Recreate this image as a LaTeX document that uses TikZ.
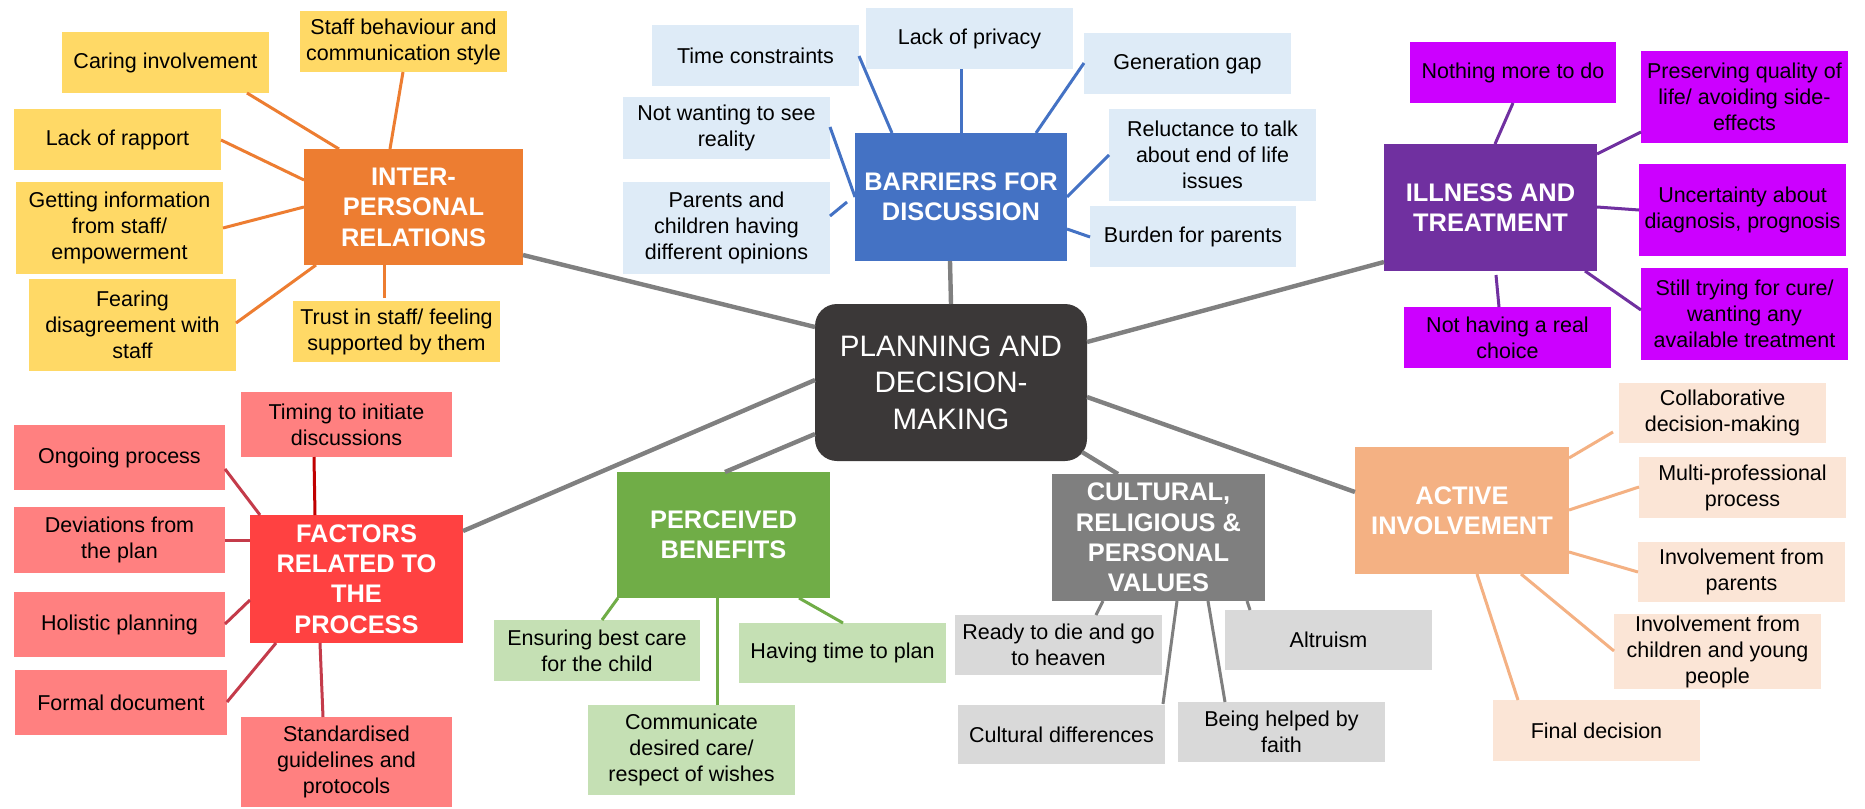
\documentclass[tikz,border=0pt]{standalone}
\usepackage{fontspec}
\setmainfont{Liberation Sans}
\definecolor{ipr}{HTML}{ED7D31}\definecolor{iprL}{HTML}{FFD966}
\definecolor{bar}{HTML}{4472C4}\definecolor{barL}{HTML}{DEEBF7}
\definecolor{ill}{HTML}{7030A0}\definecolor{illL}{HTML}{CC00FF}
\definecolor{fac}{HTML}{FF4141}\definecolor{facL}{HTML}{FF8080}\definecolor{facE}{HTML}{C43B4A}\definecolor{facE2}{HTML}{C00000}
\definecolor{per}{HTML}{70AD47}\definecolor{perL}{HTML}{C5E0B4}
\definecolor{cul}{HTML}{7F7F7F}\definecolor{culL}{HTML}{D9D9D9}
\definecolor{act}{HTML}{F4B183}\definecolor{actL}{HTML}{FBE5D6}
\definecolor{cen}{HTML}{3B3838}\definecolor{mainE}{HTML}{808080}
\tikzset{
  box/.style={rectangle, inner sep=0pt, outer sep=0pt, align=center},
  leaf/.style={box, font=\fontsize{10.75}{13}\selectfont, text=black},
  hub/.style={box, font=\fontsize{12.7}{15.2}\selectfont\bfseries, text=white},
  centre/.style={box, rounded corners=11pt, fill=cen, text=white, font=\fontsize{14.8}{18.3}\selectfont},
  mainedge/.style={draw=mainE, line width=2.2pt},
  leafedge/.style={line width=1.5pt}
}
\newcommand\bx[6]{\node[#1, minimum width={(#4-#2)*0.5pt}, minimum height={(#5-#3)*0.5pt}] (#6) at ({(#2+#4)/2},{(#3+#5)/2})}
\newcommand\cn[7]{\draw[#1] ([shift={(#3,#4)}]#2.center) -- ([shift={(#6,#7)}]#5.center);}
\begin{document}
\begin{tikzpicture}[x=0.5pt,y=-0.5pt]
\fill[white] (0,0) rectangle (1865,809);
\useasboundingbox (0,0) rectangle (1865,809);

% centre
\bx{centre}{815}{304}{1087}{461}{cen}{PLANNING AND\\DECISION-\\MAKING};

% inter-personal relations
\bx{hub,fill=ipr}{304}{149}{523}{265}{ipr}{INTER-\\PERSONAL\\RELATIONS};
\bx{leaf,fill=iprL}{62}{32}{269}{93}{caring}{Caring involvement};
\bx{leaf,fill=iprL}{300}{11}{507}{72}{staff}{Staff behaviour and\\communication style};
\bx{leaf,fill=iprL}{14}{109}{221}{170}{lack}{Lack of rapport};
\bx{leaf,fill=iprL}{16}{182}{223}{274}{getting}{Getting information\\from staff/\\empowerment};
\bx{leaf,fill=iprL}{29}{279}{236}{371}{fearing}{Fearing\\disagreement with\\staff};
\bx{leaf,fill=iprL}{293}{301}{500}{362}{trust}{Trust in staff/ feeling\\supported by them};

% barriers
\bx{hub,fill=bar}{855}{133}{1067}{261}{bar}{BARRIERS FOR\\DISCUSSION};
\bx{leaf,fill=barL}{652}{25}{859}{86}{time}{Time constraints};
\bx{leaf,fill=barL}{866}{8}{1073}{69}{privacy}{Lack of privacy};
\bx{leaf,fill=barL}{1084}{33}{1291}{94}{gengap}{Generation gap};
\bx{leaf,fill=barL}{623}{97}{830}{159}{notwant}{Not wanting to see\\reality};
\bx{leaf,fill=barL}{623}{182}{830}{274}{parents}{Parents and\\children having\\different opinions};
\bx{leaf,fill=barL}{1109}{109}{1316}{201}{reluct}{Reluctance to talk\\about end of life\\issues};
\bx{leaf,fill=barL}{1090}{206}{1296}{267}{burden}{Burden for parents};

% illness
\bx{hub,fill=ill}{1384}{144}{1597}{271}{ill}{ILLNESS AND\\TREATMENT};
\bx{leaf,fill=illL}{1410}{42}{1616}{103}{nothing}{Nothing more to do};
\bx{leaf,fill=illL}{1641}{51}{1848}{143}{preserving}{Preserving quality of\\life/ avoiding side-\\effects};
\bx{leaf,fill=illL}{1639}{164}{1846}{256}{uncertainty}{Uncertainty about\\diagnosis, prognosis};
\bx{leaf,fill=illL}{1641}{268}{1848}{360}{still}{Still trying for cure/\\wanting any\\available treatment};
\bx{leaf,fill=illL}{1404}{307}{1611}{368}{nothaving}{Not having a real\\choice};

% factors
\bx{hub,fill=fac}{250}{515}{463}{643}{fac}{FACTORS\\RELATED TO\\THE\\PROCESS};
\bx{leaf,fill=facL}{241}{392}{452}{457}{timing}{Timing to initiate\\discussions};
\bx{leaf,fill=facL}{14}{425}{225}{490}{ongoing}{Ongoing process};
\bx{leaf,fill=facL}{14}{507}{225}{573}{deviations}{Deviations from\\the plan};
\bx{leaf,fill=facL}{14}{592}{225}{657}{holistic}{Holistic planning};
\bx{leaf,fill=facL}{15}{670}{227}{735}{formal}{Formal document};
\bx{leaf,fill=facL}{241}{717}{452}{807}{standard}{Standardised\\guidelines and\\protocols};

% perceived benefits
\bx{hub,fill=per}{617}{472}{830}{598}{per}{PERCEIVED\\BENEFITS};
\bx{leaf,fill=perL}{494}{620}{700}{681}{ensuring}{Ensuring best care\\for the child};
\bx{leaf,fill=perL}{588}{705}{795}{795}{communicate}{Communicate\\desired care/\\respect of wishes};
\bx{leaf,fill=perL}{739}{623}{946}{683}{havingtime}{Having time to plan};

% cultural
\bx{hub,fill=cul}{1052}{474}{1265}{601}{cul}{CULTURAL,\\RELIGIOUS \&\\PERSONAL\\VALUES};
\bx{leaf,fill=culL}{955}{615}{1162}{675}{ready}{Ready to die and go\\to heaven};
\bx{leaf,fill=culL}{958}{705}{1165}{764}{culdiff}{Cultural differences};
\bx{leaf,fill=culL}{1178}{702}{1385}{762}{helped}{Being helped by\\faith};
\bx{leaf,fill=culL}{1225}{610}{1432}{670}{altruism}{Altruism};

% active involvement
\bx{hub,fill=act}{1355}{447}{1569}{574}{act}{ACTIVE\\INVOLVEMENT};
\bx{leaf,fill=actL}{1619}{383}{1826}{443}{collab}{Collaborative\\decision-making};
\bx{leaf,fill=actL}{1639}{457}{1846}{518}{multi}{Multi-professional\\process};
\bx{leaf,fill=actL}{1638}{542}{1845}{602}{invpar}{Involvement from\\parents};
\bx{leaf,fill=actL}{1614}{614}{1821}{689}{invchild}{Involvement from\\children and young\\people};
\bx{leaf,fill=actL}{1493}{700}{1700}{761}{final}{Final decision};

% main connectors
\cn{mainedge}{ipr}{109.5}{48}{cen}{-136}{-55.5}
\cn{mainedge}{bar}{-11}{64}{cen}{0}{-78.5}
\cn{mainedge}{ill}{-106.5}{54.5}{cen}{136}{-40.5}
\cn{mainedge}{fac}{106.5}{-48}{cen}{-136}{-2.5}
\cn{mainedge}{per}{1.5}{-63}{cen}{-136}{51.5}
\cn{mainedge}{cul}{-40.5}{-63.5}{cen}{131}{69.5}
\cn{mainedge}{act}{-107}{-18.5}{cen}{136}{14.5}

% IPR connectors
\cn{leafedge,draw=ipr}{caring}{81.5}{30.5}{ipr}{-74.5}{-58}
\cn{leafedge,draw=ipr}{staff}{-0.5}{30.5}{ipr}{-23.5}{-58}
\cn{leafedge,draw=ipr}{lack}{103.5}{0.5}{ipr}{-109.5}{-27}
\cn{leafedge,draw=ipr}{getting}{103.5}{0}{ipr}{-109.5}{0}
\cn{leafedge,draw=ipr}{fearing}{103.5}{-2}{ipr}{-97.5}{58}
\cn{leafedge,draw=ipr}{trust}{-12.5}{-33.5}{ipr}{-29.5}{58}

% BAR connectors
\cn{leafedge,draw=bar}{time}{103.5}{0.5}{bar}{-69}{-64}
\cn{leafedge,draw=bar}{privacy}{-8.5}{30.5}{bar}{0}{-64}
\cn{leafedge,draw=bar}{gengap}{-103.5}{-0.5}{bar}{75}{-64}
\cn{leafedge,draw=bar}{notwant}{103.5}{-1}{bar}{-106}{0}
\cn{leafedge,draw=bar}{parents}{103.5}{-12}{bar}{-114}{5}
\cn{leafedge,draw=bar}{reluct}{-103.5}{0}{bar}{106}{0}
\cn{leafedge,draw=bar}{burden}{-103}{0.5}{bar}{106}{32}

% ILL connectors
\cn{leafedge,draw=ill}{nothing}{0}{30.5}{ill}{4.5}{-63.5}
\cn{leafedge,draw=ill}{preserving}{-103.5}{35}{ill}{106.5}{-53.5}
\cn{leafedge,draw=ill}{uncertainty}{-103.5}{0}{ill}{106.5}{-0.5}
\cn{leafedge,draw=ill}{still}{-103.5}{-4}{ill}{94.5}{63.5}
\cn{leafedge,draw=ill}{nothaving}{-8.5}{-30.5}{ill}{5.5}{67.5}

% FAC connectors
\cn{leafedge,draw=facE2}{timing}{-32.5}{32.5}{fac}{-41.5}{-64}
\cn{leafedge,draw=facE}{ongoing}{105.5}{11.5}{fac}{-96.5}{-64}
\cn{leafedge,draw=facE}{deviations}{105.5}{0}{fac}{-106.5}{-39}
\cn{leafedge,draw=facE}{holistic}{105.5}{-0.5}{fac}{-106.5}{21}
\cn{leafedge,draw=facE}{formal}{106}{-0.5}{fac}{-80.5}{64}
\cn{leafedge,draw=facE}{standard}{-23.5}{-45}{fac}{-36.5}{64}

% PER connectors
\cn{leafedge,draw=per}{ensuring}{5}{-30.5}{per}{-105.5}{63}
\cn{leafedge,draw=per}{communicate}{25.5}{-45}{per}{-6.5}{63}
\cn{leafedge,draw=per}{havingtime}{0.5}{-30}{per}{75.5}{63}

% CUL connectors
\cn{leafedge,draw=cul}{ready}{37.5}{-30}{cul}{-55.5}{63.5}
\cn{leafedge,draw=cul}{culdiff}{101.5}{-30.5}{cul}{18.5}{63.5}
\cn{leafedge,draw=cul}{helped}{-56.5}{-30}{cul}{49.5}{63.5}
\cn{leafedge,draw=cul}{altruism}{-78.5}{-30}{cul}{88.5}{63.5}

% ACT connectors
\cn{leafedge,draw=act}{collab}{-109.5}{19}{act}{107}{-52.5}
\cn{leafedge,draw=act}{multi}{-103.5}{-0.5}{act}{107}{-0.5}
\cn{leafedge,draw=act}{invpar}{-103.5}{0}{act}{107}{41.5}
\cn{leafedge,draw=act}{invchild}{-103.5}{-0.5}{act}{59}{63.5}
\cn{leafedge,draw=act}{final}{-78.5}{-30.5}{act}{15}{63.5}
\end{tikzpicture}
\end{document}
